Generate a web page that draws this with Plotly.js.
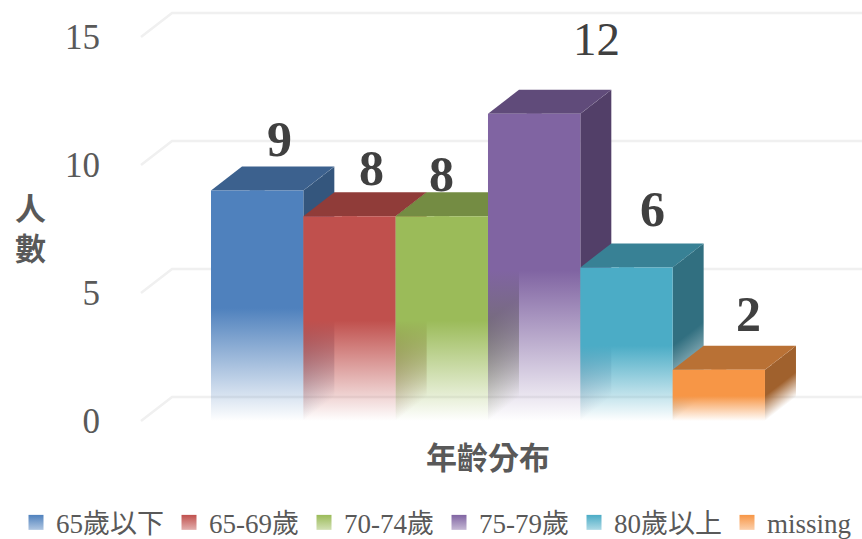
<!DOCTYPE html>
<html>
<head>
<meta charset="utf-8">
<script src="https://cdn.plot.ly/plotly-3.0.1.min.js"></script>
<style>html,body{margin:0;padding:0;background:#fff}</style>
</head>
<body>
<div id="chart" style="width:862px;height:539px"></div>
<script>
// ---- data ----
const categories = ['65歲以下', '65-69歲', '70-74歲', '75-79歲', '80歲以上', 'missing'];
const counts = [9, 8, 8, 12, 6, 2];
const yTicks = [0, 5, 10, 15];

// ---- colours ----
const frontRGB = ['79,129,189', '192,80,77', '155,187,89', '128,100,162', '75,172,198', '247,150,70'];
const topRGB = ['60,97,142', '144,60,57', '116,140,67', '96,75,122', '56,129,149', '185,113,53'];
const sideRGB = ['52,86,125', '125,52,50', '101,122,58', '82,63,104', '49,111,128', '160,97,45'];
const textDark = '#404040', textMid = '#595959', gridColor = '#f0f0f0';
const SERIF = '"Liberation Serif","Noto Sans CJK TC",serif';

// ---- oblique projection, in axis units ----
const X0 = 211, UX = 92.33, UY = 25.6;  // pixel of x=0, pixels per bar / per person
const DX = 31 / UX, DY = 24 / UY;       // depth of the box
const FADE = 0.49;                      // share of the bar height that fades out
const STRIP_PX = 1;
const labelShift = [[22, 52], [22, 48], [0, 42], [62, 75], [26, 58], [30, 56]];
const labelBold = [true, true, true, false, true, true];

const fadeScale = rgb => [[0, `rgba(${rgb},0)`], [FADE, `rgba(${rgb},1)`], [1, `rgba(${rgb},1)`]];
const face = (x, y, extra) => Object.assign({
  x, y, type: 'scatter', mode: 'none', fill: 'toself', hoverinfo: 'skip', showlegend: false
}, extra);

// depth fractions whose x falls on whole pixels, so the strips meet without seams
function stripEdges(R) {
  const a = X0 + UX * R, b = a + 31, out = [0];
  for (let p = Math.ceil(a) + STRIP_PX; p < b; p += STRIP_PX) out.push((p - a) / 31);
  out.push(1);
  return out;
}

const traces = [];

// gridlines: floor/wall folding back from the front edge
const gx0 = (141 - X0) / UX, gx1 = (862 - X0) / UX;
const gridX = [], gridY = [];
yTicks.forEach(t => {
  gridX.push(gx0, gx0 + DX, gx1, null);
  gridY.push(t, t + DY, t + DY, null);
});
traces.push({ x: gridX, y: gridY, type: 'scatter', mode: 'lines', hoverinfo: 'skip', showlegend: false,
  line: { color: gridColor, width: 2.5 } });

categories.forEach((name, i) => {
  const v = counts[i], L = i, R = i + 1;
  // legend key; the point itself sits behind the box top
  traces.push({ x: [i + 0.5], y: [v], name, type: 'scatter', mode: 'markers', hoverinfo: 'skip',
    marker: { symbol: 'square', size: 15, color: `rgb(${frontRGB[i]})`,
      gradient: { type: 'vertical', color: `rgba(${frontRGB[i]},0.45)` } } });
  // side face, in strips so that the fade follows the receding floor
  const edges = stripEdges(R);
  for (let s = 0; s < edges.length - 1; s++) {
    const t0 = edges[s], t1 = edges[s + 1];
    const base = (t0 + t1) / 2 * DY;
    traces.push(face(
      [R + t0 * DX, R + t1 * DX, R + t1 * DX, R + t0 * DX, R + t0 * DX],
      [t0 * DY, t1 * DY, v + t1 * DY, v + t0 * DY, t0 * DY],
      { fillgradient: { type: 'vertical', start: base, stop: base + v, colorscale: fadeScale(sideRGB[i]) } }
    ));
  }
  // top face
  traces.push(face([L, R, R + DX, L + DX, L], [v, v, v + DY, v + DY, v], { fillcolor: `rgb(${topRGB[i]})` }));
  // front face
  traces.push(face([L, R, R, L, L], [0, 0, v, v, 0],
    { fillgradient: { type: 'vertical', start: 0, stop: v, colorscale: fadeScale(frontRGB[i]) } }));
});

const annotations = counts.map((v, i) => ({
  x: i + 0.5, y: v, xref: 'x', yref: 'y', text: String(v), showarrow: false,
  xshift: labelShift[i][0], yshift: labelShift[i][1], xanchor: 'center', yanchor: 'middle',
  font: { family: SERIF, size: labelBold[i] ? 50 : 47, color: textDark, weight: labelBold[i] ? 700 : 400 }
}));
annotations.push({
  xref: 'paper', yref: 'paper', x: 30 / 862, y: 0.473, text: '人<br>數', showarrow: false,
  xanchor: 'center', yanchor: 'middle', align: 'center',
  font: { family: SERIF, size: 31, color: textMid, weight: 700 }
});

const layout = {
  width: 862, height: 539, autosize: false,
  margin: { l: 0, r: 0, t: 0, b: 104, pad: 0 },
  paper_bgcolor: '#fff', plot_bgcolor: 'rgba(0,0,0,0)',
  xaxis: {
    domain: [114 / 862, 1],
    range: [(114 - X0) / UX, (862 - X0) / UX], showgrid: false, zeroline: false,
    showline: false, showticklabels: false, ticks: '',
    title: { text: '年齡分布', standoff: 12, font: { family: SERIF, size: 31, color: textMid, weight: 700 } }
  },
  yaxis: {
    range: [(421 - 435) / UY, 421 / UY], tickvals: yTicks, ticktext: yTicks.map(String),
    showgrid: false, zeroline: false, showline: false, ticks: '', ticklabelstandoff: 13,
    tickfont: { family: SERIF, size: 35, color: textMid }
  },
  showlegend: true,
  legend: {
    orientation: 'h', xref: 'paper', yref: 'container', x: 16 / 862, y: 0.03,
    xanchor: 'left', yanchor: 'middle', bgcolor: 'rgba(0,0,0,0)',
    font: { family: SERIF, size: 27, color: textMid }
  },
  annotations
};
Plotly.newPlot('chart', traces, layout, { displayModeBar: false, staticPlot: true });
</script>
</body>
</html>
